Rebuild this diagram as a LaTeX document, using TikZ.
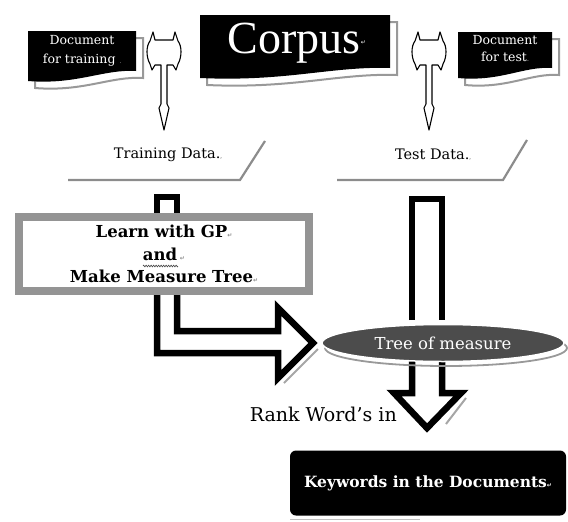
\documentclass[tikz,border=0pt]{standalone}
\usepackage{fontspec}
\setmainfont{DejaVu Serif}
\newfontfamily\timesfont{Liberation Serif}
\newfontfamily\symfont{DejaVu Sans}
\usetikzlibrary{shapes.geometric,decorations.pathmorphing}

% paragraph mark shown after a line of text
\newcommand\pmark[1][black!45]{{\symfont\fontsize{6}{6}\selectfont\textcolor{#1}{↵}}}

% box with a wavy lower edge: left, top, right, bottom
\newcommand\wavebox[4]{(#1,#2) -- (#3,#2) -- (#3,#4-10)
  .. controls ({#3-0.3*(#3-#1)},#4-12) and ({#1+0.45*(#3-#1)},#4+4) .. (#1,#4) -- cycle}

\tikzset{
  docfill/.style={fill=black},
  docshade/.style={draw=black!40, line width=2pt},
  slantshade/.style={draw=black!45, line width=2.2pt},
  pinshape/.pic={
    \path[draw=black, line width=1.1pt, fill=white, line join=round]
      (-11,32) -- (-9,40) -- (9,40) -- (11,32) -- (14,41)
      .. controls (18,46) and (18,57) .. (14,64) -- (12,70) -- (9,65)
      -- (3,65) -- (3,104) -- (5,108) -- (0,130) -- (-5,108) -- (-3,104)
      -- (-3,65) -- (-9,65) -- (-12,70) -- (-14,64)
      .. controls (-18,57) and (-18,46) .. (-14,41) -- cycle;
  },
  blockarrow/.style={draw=black, line width=6.5pt, fill=white, miter limit=20},
  whitetext/.style={text=white, inner sep=0pt, align=center},
  learnbox/.style={draw=black!42, line width=8pt, fill=white,
    minimum width=290pt, minimum height=74pt, align=center, inner sep=0pt},
}

\begin{document}
\begin{tikzpicture}[x=1pt, y=-1pt]
\useasboundingbox (0,0) rectangle (568,522);

% ---------- top row: source documents ----------
\begin{scope}[shift={(7,7)}]
  \draw[docshade] \wavebox{28}{31}{136}{81};
  \draw[docshade] \wavebox{200}{15}{390}{78};
  \draw[docshade] \wavebox{458}{32}{552}{78};
\end{scope}
\path[docfill] \wavebox{28}{31}{136}{81};
\path[docfill] \wavebox{200}{15}{390}{78};
\path[docfill] \wavebox{458}{32}{552}{78};

\node (doctrain) [whitetext, font=\fontsize{12.5}{19}\selectfont] at (82,51)
  {Document\\for training {\fontsize{5}{5}\selectfont .}};
\node (corpus) [whitetext, font=\timesfont\fontsize{46}{46}\selectfont] at (294,43)
  {Corpus};
\node [whitetext, anchor=west] at (corpus.east) {\pmark[white]};
\node (doctest) [whitetext, font=\fontsize{12.5}{17}\selectfont] at (505,49)
  {Document\\for test{\fontsize{6}{6}\selectfont .}};

% split arrows from the corpus
\pic (pinleft) at (164,0) {pinshape};
\pic (pinright) at (429,0) {pinshape};

% ---------- data sets ----------
\draw[slantshade] (68,180) -- (240,180) -- (265,141);
\draw[slantshade] (337,180) -- (503,180) -- (527,140);
\node (traindata) [inner sep=0pt, font=\fontsize{14.5}{14.5}\selectfont] at (168,155)
  {Training Data.{\symfont\fontsize{5}{5}\selectfont ,}};
\node (testdata) [inner sep=0pt, font=\fontsize{14.5}{14.5}\selectfont] at (433,155)
  {Test Data.{\symfont\fontsize{5}{5}\selectfont ,}};

% ---------- block arrows (drawn beneath the boxes) ----------
\draw[blockarrow, fill=none] (157,216) -- (157,197) -- (177,197) -- (177,216);
\draw[blockarrow] (177,292) -- (177,331) -- (278,331) -- (278,308)
  -- (313,343) -- (278,378) -- (278,353) -- (157,353) -- (157,292);
\draw[black!35, line width=2pt] (318,349) -- (284,383);

\draw[blockarrow] (412,320) -- (412,199) -- (442,199) -- (442,320);
\draw[black!35, line width=2pt] (466,398) -- (446,424);
\draw[blockarrow] (412,360) -- (412,393) -- (394,393) -- (427,428)
  -- (461,393) -- (442,393) -- (442,360);

% ---------- learning step ----------
\node (learn) [learnbox, font=\bfseries\fontsize{16.5}{22.5}\selectfont] at (164,254)
  {Learn with GP\pmark\\ and\,\pmark\\ Make Measure Tree\pmark};
\draw[decorate, decoration={zigzag, segment length=2.5pt, amplitude=0.9pt},
  black!70, line width=0.6pt] (143,266) -- (178,266);

% ---------- measure tree ----------
\draw[black!40, line width=1.8pt] (446,348) ellipse [x radius=121, y radius=18];
\node (tree) [ellipse, fill=black!70, draw=white, line width=1.5pt,
  minimum width=242pt, minimum height=37pt, inner sep=0pt,
  text=white, font=\fontsize{16.5}{16.5}\selectfont] at (443,343) {Tree of measure};

% ---------- ranking and result ----------
\node (rank) [anchor=east, inner sep=0pt, font=\fontsize{19}{19}\selectfont]
  at (397,414) {Rank Word’s in};

\draw[black!25, line width=0.8pt] (290,519) -- (420,519);
\node (keywords) [fill=black, rounded corners=6pt, minimum width=276pt,
  minimum height=65pt, text=white, font=\bfseries\fontsize{15.5}{15.5}\selectfont]
  at (428,483) {Keywords in the Documents\pmark[white]};

\end{tikzpicture}
\end{document}
